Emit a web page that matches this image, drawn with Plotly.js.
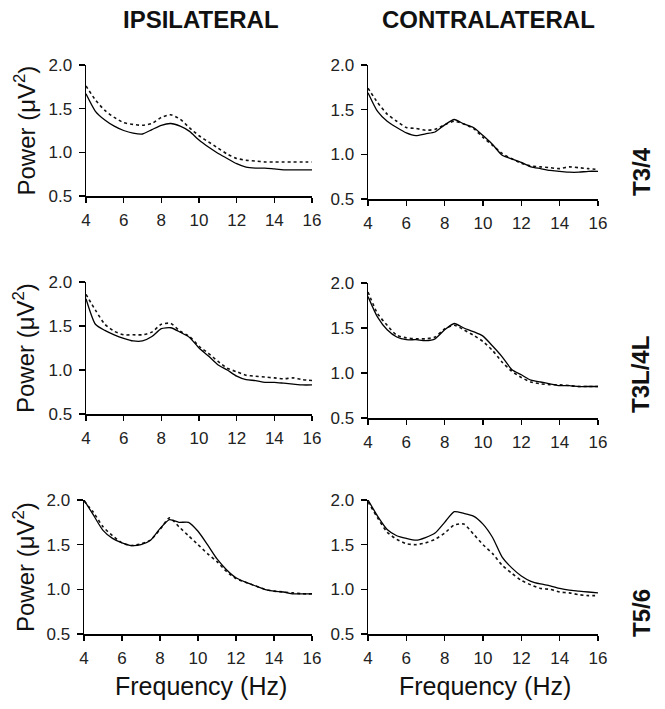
<!DOCTYPE html>
<html>
<head>
<meta charset="utf-8">
<script src="https://cdn.plot.ly/plotly-3.0.1.min.js"></script>
<style>html,body{margin:0;padding:0;background:#fff;}#chart{width:665px;height:709px;}</style>
</head>
<body>
<div id="chart"></div>
<script>
// Frequency (Hz)
const freq = [4,4.5,5,5.5,6,6.5,7,7.5,8,8.5,9,9.5,10,10.5,11,11.5,12,12.5,13,13.5,14,14.5,15,15.5,16];

// T3/4 ipsilateral
const ipsiT34Solid  = [1.67,1.47,1.37,1.30,1.25,1.22,1.21,1.26,1.31,1.33,1.30,1.24,1.14,1.06,0.99,0.93,0.87,0.83,0.82,0.82,0.81,0.80,0.80,0.80,0.80];
const ipsiT34Dotted = [1.76,1.60,1.48,1.40,1.34,1.32,1.31,1.33,1.40,1.43,1.38,1.28,1.19,1.12,1.05,0.98,0.93,0.91,0.90,0.89,0.89,0.89,0.89,0.89,0.89];
// T3/4 contralateral
const contraT34Solid  = [1.69,1.48,1.37,1.30,1.24,1.21,1.23,1.25,1.33,1.39,1.34,1.30,1.21,1.11,0.99,0.95,0.91,0.86,0.84,0.82,0.81,0.80,0.80,0.81,0.81];
const contraT34Dotted = [1.74,1.58,1.45,1.37,1.30,1.29,1.27,1.28,1.33,1.37,1.34,1.29,1.19,1.10,1.01,0.95,0.90,0.87,0.86,0.85,0.84,0.86,0.85,0.84,0.83];
// T3L/4L ipsilateral
const ipsiT3LSolid  = [1.81,1.52,1.45,1.40,1.36,1.33,1.33,1.38,1.47,1.48,1.43,1.37,1.25,1.16,1.06,1.00,0.93,0.89,0.88,0.86,0.86,0.85,0.84,0.83,0.83];
const ipsiT3LDotted = [1.86,1.68,1.52,1.44,1.40,1.40,1.40,1.43,1.52,1.53,1.44,1.38,1.27,1.19,1.10,1.02,0.98,0.94,0.93,0.92,0.91,0.90,0.91,0.89,0.88];
// T3L/4L contralateral
const contraT3LSolid  = [1.85,1.62,1.48,1.40,1.37,1.37,1.36,1.38,1.48,1.55,1.50,1.46,1.41,1.30,1.18,1.04,0.98,0.92,0.90,0.88,0.86,0.86,0.85,0.85,0.85];
const contraT3LDotted = [1.90,1.66,1.53,1.42,1.39,1.38,1.38,1.40,1.49,1.53,1.48,1.42,1.35,1.25,1.12,1.02,0.95,0.90,0.88,0.87,0.87,0.86,0.85,0.85,0.85];
// T5/6 ipsilateral
const ipsiT56Solid  = [2.00,1.83,1.66,1.57,1.52,1.49,1.50,1.55,1.68,1.78,1.75,1.75,1.65,1.50,1.34,1.22,1.13,1.08,1.04,1.00,0.98,0.97,0.95,0.95,0.95];
const ipsiT56Dotted = [1.99,1.86,1.70,1.60,1.52,1.49,1.51,1.55,1.67,1.80,1.70,1.60,1.50,1.40,1.31,1.20,1.12,1.08,1.04,1.00,0.98,0.97,0.96,0.95,0.95];
// T5/6 contralateral
const contraT56Solid  = [2.00,1.82,1.67,1.60,1.57,1.55,1.58,1.63,1.75,1.87,1.85,1.82,1.73,1.58,1.36,1.24,1.15,1.09,1.06,1.04,1.01,0.99,0.98,0.97,0.96];
const contraT56Dotted = [1.98,1.80,1.64,1.56,1.51,1.50,1.52,1.56,1.63,1.72,1.73,1.62,1.50,1.40,1.27,1.18,1.10,1.05,1.01,1.00,0.97,0.96,0.94,0.93,0.93];

const xTicks = [4,6,8,10,12,14,16];
const yTicks = [0.5,1.0,1.5,2.0];
const yTickText = ["0.5","1.0","1.5","2.0"];
const columnTitles = ["IPSILATERAL","CONTRALATERAL"];
const rowLabels = ["T3/4","T3L/4L","T5/6"];
const yLabel = "Power (μV<sup>2</sup>)";
const xLabel = "Frequency (Hz)";

const W = 665, H = 709;
const panels = [
  {solid: ipsiT34Solid,   dotted: ipsiT34Dotted,   x0: 86,  x1: 312, y0: 65,  y1: 196},
  {solid: contraT34Solid, dotted: contraT34Dotted, x0: 368, x1: 598, y0: 65,  y1: 199},
  {solid: ipsiT3LSolid,   dotted: ipsiT3LDotted,   x0: 86,  x1: 312, y0: 282, y1: 414},
  {solid: contraT3LSolid, dotted: contraT3LDotted, x0: 368, x1: 598, y0: 283, y1: 418},
  {solid: ipsiT56Solid,   dotted: ipsiT56Dotted,   x0: 84,  x1: 312, y0: 500, y1: 634},
  {solid: contraT56Solid, dotted: contraT56Dotted, x0: 368, x1: 598, y0: 500, y1: 634}
];

const font = {family: "Liberation Sans, Arial, sans-serif", color: "#111"};
const traces = [];
const layout = {
  width: W, height: H,
  margin: {l: 0, r: 0, t: 0, b: 0},
  paper_bgcolor: "#fff", plot_bgcolor: "#fff",
  showlegend: false,
  font: font,
  annotations: []
};

panels.forEach((p, i) => {
  const n = i === 0 ? "" : String(i + 1);
  const xa = "x" + n, ya = "y" + n;
  traces.push({x: freq, y: p.dotted, xaxis: xa, yaxis: ya, type: "scatter", mode: "lines",
    line: {color: "#111", width: 1.6, dash: "3px,3px", shape: "spline", smoothing: 0.6}, hoverinfo: "skip"});
  traces.push({x: freq, y: p.solid, xaxis: xa, yaxis: ya, type: "scatter", mode: "lines",
    line: {color: "#000", width: 1.3, shape: "spline", smoothing: 0.6}, hoverinfo: "skip"});
  layout["xaxis" + n] = {
    domain: [p.x0 / W, p.x1 / W], anchor: ya, range: [4, 16],
    tickmode: "array", tickvals: xTicks, ticktext: xTicks.map(String),
    showgrid: false, zeroline: false, showline: true, linecolor: "#000", linewidth: 1.5,
    ticks: "outside", ticklen: 5, tickwidth: 1.5, tickcolor: "#000",
    tickfont: {family: font.family, size: 17, color: "#222"}, ticklabelstandoff: 3
  };
  layout["yaxis" + n] = {
    domain: [1 - p.y1 / H, 1 - p.y0 / H], anchor: xa, range: [0.5, 2.0],
    tickmode: "array", tickvals: yTicks, ticktext: yTickText,
    showgrid: false, zeroline: false, showline: true, linecolor: "#000", linewidth: 1.5,
    ticks: "outside", ticklen: 6, tickwidth: 1.5, tickcolor: "#000",
    tickfont: {family: font.family, size: 17, color: "#222"}, ticklabelstandoff: 3
  };
  if (i % 2 === 0) {
    layout.annotations.push({
      xref: "paper", yref: "paper", x: 24 / W, y: 1 - ((p.y0 + p.y1) / 2) / H,
      text: yLabel, showarrow: false, textangle: -90,
      font: {family: font.family, size: 24, color: "#111"}, xanchor: "center", yanchor: "middle"
    });
  }
});

layout.annotations.push({xref: "paper", yref: "paper", x: 201 / W, y: 1 - 20 / H, text: "<b>" + columnTitles[0] + "</b>",
  showarrow: false, font: {family: font.family, size: 24, color: "#111"}, xanchor: "center", yanchor: "middle"});
layout.annotations.push({xref: "paper", yref: "paper", x: 488 / W, y: 1 - 20 / H, text: "<b>" + columnTitles[1] + "</b>",
  showarrow: false, font: {family: font.family, size: 24, color: "#111"}, xanchor: "center", yanchor: "middle"});

const rowY = [172, 375, 613];
rowLabels.forEach((t, r) => {
  layout.annotations.push({xref: "paper", yref: "paper", x: 641 / W, y: 1 - rowY[r] / H, text: "<b>" + t + "</b>",
    showarrow: false, textangle: -90, font: {family: font.family, size: 24, color: "#111"}, xanchor: "center", yanchor: "middle"});
});

layout.annotations.push({xref: "paper", yref: "paper", x: 201 / W, y: 1 - 686 / H, text: xLabel,
  showarrow: false, font: {family: font.family, size: 25, color: "#111"}, xanchor: "center", yanchor: "middle"});
layout.annotations.push({xref: "paper", yref: "paper", x: 485 / W, y: 1 - 686 / H, text: xLabel,
  showarrow: false, font: {family: font.family, size: 25, color: "#111"}, xanchor: "center", yanchor: "middle"});

Plotly.newPlot("chart", traces, layout, {staticPlot: true, displayModeBar: false});
</script>
</body>
</html>
